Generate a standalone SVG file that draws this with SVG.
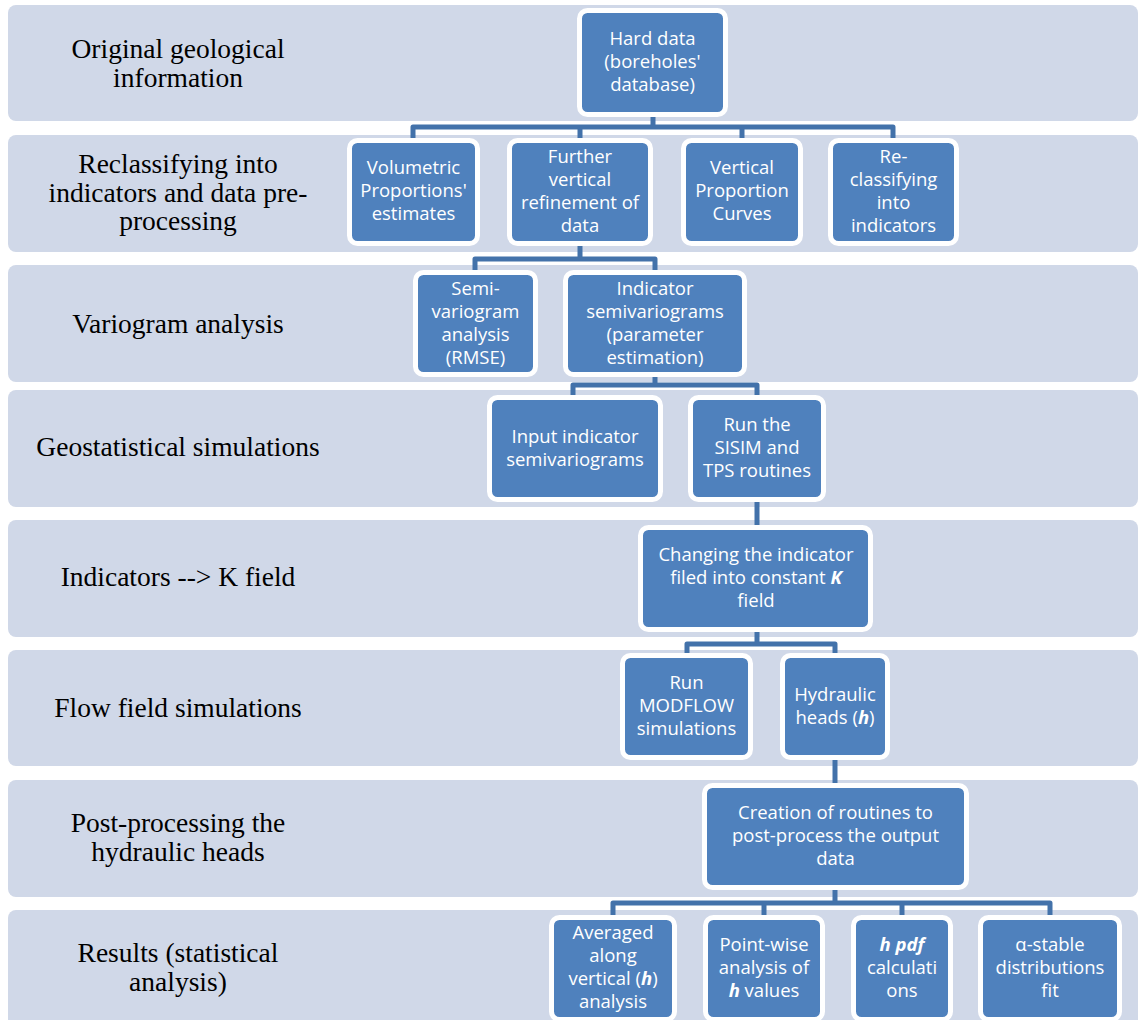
<svg xmlns="http://www.w3.org/2000/svg" width="1139" height="1020" viewBox="0 0 1139 1020">
<style>
.band{fill:#D0D8E8}
.lbl{font-family:"Liberation Serif","Times New Roman",serif;font-size:27.5px;fill:#000;text-anchor:middle}
.node rect{fill:#4F81BD;stroke:#FFFFFF;stroke-width:5}
.node text{font-family:"Open Sans","Noto Sans",sans-serif;font-size:18.5px;fill:#FFFFFF;text-anchor:middle}
.bi{font-weight:bold;font-style:italic}
.conn{fill:none;stroke:#4372AA;stroke-width:5;stroke-linejoin:round}
</style>
<rect width="1139" height="1020" fill="#FFFFFF"/>
<g id="bands">
<rect class="band" x="8" y="5" width="1130" height="116" rx="8"/>
<rect class="band" x="8" y="135" width="1130" height="117" rx="8"/>
<rect class="band" x="8" y="265" width="1130" height="117" rx="8"/>
<rect class="band" x="8" y="390" width="1130" height="117" rx="8"/>
<rect class="band" x="8" y="520" width="1130" height="117" rx="8"/>
<rect class="band" x="8" y="650" width="1130" height="116" rx="8"/>
<rect class="band" x="8" y="780" width="1130" height="117" rx="8"/>
<rect class="band" x="8" y="910" width="1130" height="125" rx="8"/>
</g>
<g id="labels">
<text class="lbl" x="178" y="58">Original geological</text>
<text class="lbl" x="178" y="87">information</text>
<text class="lbl" x="178" y="173">Reclassifying into</text>
<text class="lbl" x="178" y="202">indicators and data pre-</text>
<text class="lbl" x="178" y="230">processing</text>
<text class="lbl" x="178" y="333">Variogram analysis</text>
<text class="lbl" x="178" y="456">Geostatistical simulations</text>
<text class="lbl" x="178" y="586">Indicators --&gt; K field</text>
<text class="lbl" x="178" y="717">Flow field simulations</text>
<text class="lbl" x="178" y="832">Post-processing the</text>
<text class="lbl" x="178" y="861">hydraulic heads</text>
<text class="lbl" x="178" y="962">Results (statistical</text>
<text class="lbl" x="178" y="991">analysis)</text>
</g>
<g id="connectors">
<path class="conn" d="M653,115 V127 M413,140 V127 H893 V140 M580,127 V140 M742,127 V140"/>
<path class="conn" d="M580,244 V259 M475,272 V259 H655 V272"/>
<path class="conn" d="M655,375 V385 M573,397 V385 H757 V397"/>
<path class="conn" d="M757,500 V527"/>
<path class="conn" d="M757,630 V644 M687,655 V644 H835 V655"/>
<path class="conn" d="M835,758 V785"/>
<path class="conn" d="M835,888 V903 M613,917 V903 H1050 V917 M764,903 V917 M902,903 V917"/>
</g>
<g id="hard" class="node">
<rect x="579.5" y="10.5" width="146" height="104" rx="8"/>
<text x="652.5" y="45">Hard data</text>
<text x="652.5" y="68">(boreholes'</text>
<text x="652.5" y="91">database)</text>
</g>
<g id="volumetric" class="node">
<rect x="349.5" y="140.5" width="128" height="103" rx="8"/>
<text x="413.5" y="174">Volumetric</text>
<text x="413.5" y="197">Proportions'</text>
<text x="413.5" y="220">estimates</text>
</g>
<g id="further" class="node">
<rect x="509.5" y="140.5" width="141" height="103" rx="8"/>
<text x="580" y="162.5">Further</text>
<text x="580" y="185.5">vertical</text>
<text x="580" y="208.5">refinement of</text>
<text x="580" y="231.5">data</text>
</g>
<g id="vpc" class="node">
<rect x="683.5" y="140.5" width="117" height="103" rx="8"/>
<text x="742" y="174">Vertical</text>
<text x="742" y="197">Proportion</text>
<text x="742" y="220">Curves</text>
</g>
<g id="reclass" class="node">
<rect x="830.5" y="140.5" width="126" height="103" rx="8"/>
<text x="893.5" y="162.5">Re-</text>
<text x="893.5" y="185.5">classifying</text>
<text x="893.5" y="208.5">into</text>
<text x="893.5" y="231.5">indicators</text>
</g>
<g id="semivar" class="node">
<rect x="415.5" y="272.5" width="120" height="102" rx="8"/>
<text x="475.5" y="294.5">Semi-</text>
<text x="475.5" y="317.5">variogram</text>
<text x="475.5" y="340.5">analysis</text>
<text x="475.5" y="363.5">(RMSE)</text>
</g>
<g id="indsemivar" class="node">
<rect x="565.5" y="272.5" width="179" height="102" rx="8"/>
<text x="655" y="294.5">Indicator</text>
<text x="655" y="317.5">semivariograms</text>
<text x="655" y="340.5">(parameter</text>
<text x="655" y="363.5">estimation)</text>
</g>
<g id="input" class="node">
<rect x="489.5" y="397.5" width="171" height="102" rx="8"/>
<text x="575" y="442.5">Input indicator</text>
<text x="575" y="465.5">semivariograms</text>
</g>
<g id="sisim" class="node">
<rect x="690.5" y="397.5" width="133" height="102" rx="8"/>
<text x="757" y="431">Run the</text>
<text x="757" y="454">SISIM and</text>
<text x="757" y="477">TPS routines</text>
</g>
<g id="changing" class="node">
<rect x="640.5" y="527.5" width="230" height="102" rx="8"/>
<text x="756" y="561">Changing the indicator</text>
<text x="756" y="584">filed into constant <tspan class="bi">K</tspan></text>
<text x="756" y="607">field</text>
</g>
<g id="modflow" class="node">
<rect x="622.5" y="655.5" width="128" height="102" rx="8"/>
<text x="686.5" y="689">Run</text>
<text x="686.5" y="712">MODFLOW</text>
<text x="686.5" y="735">simulations</text>
</g>
<g id="heads" class="node">
<rect x="782.5" y="655.5" width="105" height="102" rx="8"/>
<text x="835" y="700.5">Hydraulic</text>
<text x="835" y="723.5">heads (<tspan class="bi">h</tspan>)</text>
</g>
<g id="creation" class="node">
<rect x="704.5" y="785.5" width="262" height="102" rx="8"/>
<text x="835.5" y="819">Creation of routines to</text>
<text x="835.5" y="842">post-process the output</text>
<text x="835.5" y="865">data</text>
</g>
<g id="averaged" class="node">
<rect x="551.5" y="917.5" width="123" height="102" rx="8"/>
<text x="613" y="939">Averaged</text>
<text x="613" y="962">along</text>
<text x="613" y="985">vertical (<tspan class="bi">h</tspan>)</text>
<text x="613" y="1008">analysis</text>
</g>
<g id="pointwise" class="node">
<rect x="705.5" y="917.5" width="117" height="102" rx="8"/>
<text x="764" y="950.5">Point-wise</text>
<text x="764" y="973.5">analysis of</text>
<text x="764" y="996.5"><tspan class="bi">h</tspan> values</text>
</g>
<g id="hpdf" class="node">
<rect x="853.5" y="917.5" width="97" height="102" rx="8"/>
<text x="902" y="950.5" class="bi">h pdf</text>
<text x="902" y="973.5">calculati</text>
<text x="902" y="996.5">ons</text>
</g>
<g id="alpha" class="node">
<rect x="980.5" y="917.5" width="139" height="102" rx="8"/>
<text x="1050" y="950.5">α-stable</text>
<text x="1050" y="973.5">distributions</text>
<text x="1050" y="996.5">fit</text>
</g>
</svg>
